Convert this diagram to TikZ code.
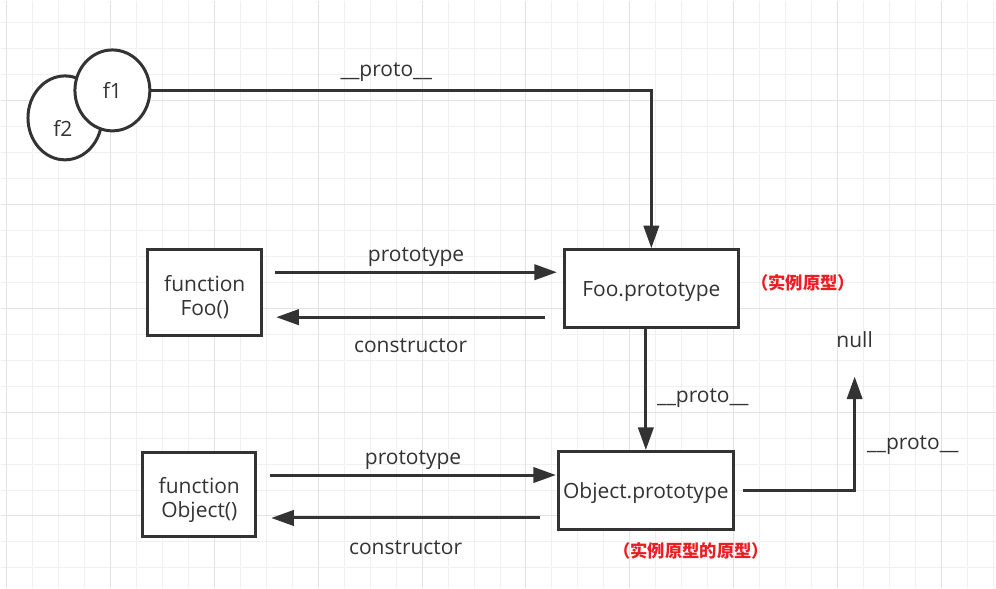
\documentclass[tikz,border=0pt]{standalone}
\usepackage{fontspec}
\setmainfont{Open Sans}
\newfontfamily\cjkfont{Noto Sans CJK SC}
\usetikzlibrary{arrows.meta, shapes.geometric}

\begin{document}
\begin{tikzpicture}[x = 0.75pt, y = -0.75pt,
        every node/.style = {text = mydarkgray, font = \fontsize{15.75}{18}\selectfont},
        gridminor/.style = {draw = mygridminor, line width = 0.75pt},
        gridmajor/.style = {draw = mygridmajor, line width = 0.75pt},
        box/.style = {draw = mydarkgray, rectangle, line width = 2.25pt, fill = white, align = center, inner sep = 0pt, text depth = -2pt},
        ring/.style = {draw = mydarkgray, ellipse, line width = 2.25pt, fill = white, inner sep = 0pt},
        link/.style = {draw = mydarkgray, line width = 2.25pt, -{Triangle[length = 17pt, width = 11.5pt]}},
        note/.style = {text = myred, font = \cjkfont\bfseries\fontsize{13}{15}\selectfont}]
        \path (0, 0) -- (996, 588);
        \definecolor{mydarkgray}{RGB}{51,51,51}
        \definecolor{myred}{RGB}{235,30,35}
        \definecolor{mygridminor}{RGB}{240,240,240}
        \definecolor{mygridmajor}{RGB}{226,226,226}

        % background grid
        \foreach \gx in {0, ..., 38} \path[gridminor] (6 + 26 * \gx, 0) -- (6 + 26 * \gx, 588);
        \foreach \gy in {0, ..., 21} \path[gridminor] (0, 22 + 26 * \gy) -- (996, 22 + 26 * \gy);
        \foreach \gx in {0, ..., 9} \path[gridmajor] (6 + 104 * \gx, 0) -- (6 + 104 * \gx, 588);
        \foreach \gy in {0, ..., 4} \path[gridmajor] (0, 100 + 104 * \gy) -- (996, 100 + 104 * \gy);

        \node[ring, minimum width = 55.5pt, minimum height = 63pt, label = {[xshift = -1.5pt, yshift = -7.9pt]center:f2}] at (64.5, 117.5) (f2) {};
        \node[ring, minimum width = 56.25pt, minimum height = 60.75pt] at (112, 90) (f1) {f1};

        \node[box, minimum width = 85.5pt, minimum height = 64.5pt] at (204.5, 292.5) (foo) {\rule{0pt}{16pt}function\\Foo()};
        \node[box, minimum width = 130.5pt, minimum height = 58.5pt] at (651.5, 288.5) (foop) {Foo.prototype};
        \node[box, minimum width = 84.75pt, minimum height = 63pt] at (199, 494.5) (obj) {\rule{0pt}{16pt}function\\Object()};
        \node[box, minimum width = 131.25pt, minimum height = 58.5pt] at (646, 490.5) (objp) {Object.prototype};
        \node at (855, 339) (nul) {null};

        \node[note, anchor = west] at ([xshift = 5pt, yshift = 4.1pt] foop.east) (foonote) {（实例原型）};
        \node[note] at ([xshift = 34pt, yshift = -14.6pt] objp.south) (objnote) {（实例原型的原型）};

        \path[link] (f1.east) -| (foop.north) node[above = 2pt, pos = 0.235] {\_\_proto\_\_};
        \path[link] ([xshift = 9pt, yshift = 15.375pt] foo.east) -- ([xshift = -4.5pt, yshift = 12.375pt] foop.west) node[above, midway] {prototype};
        \path[link] ([xshift = -13.5pt, yshift = -21.375pt] foop.west) -- ([xshift = 9.75pt, yshift = -18.375pt] foo.east) node[below = 12pt, midway] {constructor};
        \path[link] ([xshift = 9.75pt, yshift = 14.625pt] obj.east) -- ([xshift = -0.75pt, yshift = 11.625pt] objp.west) node[above, midway] {prototype};
        \path[link] ([xshift = -12.75pt, yshift = -20.625pt] objp.west) -- ([xshift = 10.5pt, yshift = -17.625pt] obj.east) node[below = 12.5pt, midway] {constructor};
        \path[link] ([xshift = -4.125pt] foop.south) -- (objp.north) node[right = 4pt, pos = 0.57] {\_\_proto\_\_};
        \path[link] ([xshift = 6.4pt] objp.east) -| ([yshift = -18.5pt] nul.south) node[right = 5pt, pos = 0.7] {\_\_proto\_\_};
\end{tikzpicture}
\end{document}
